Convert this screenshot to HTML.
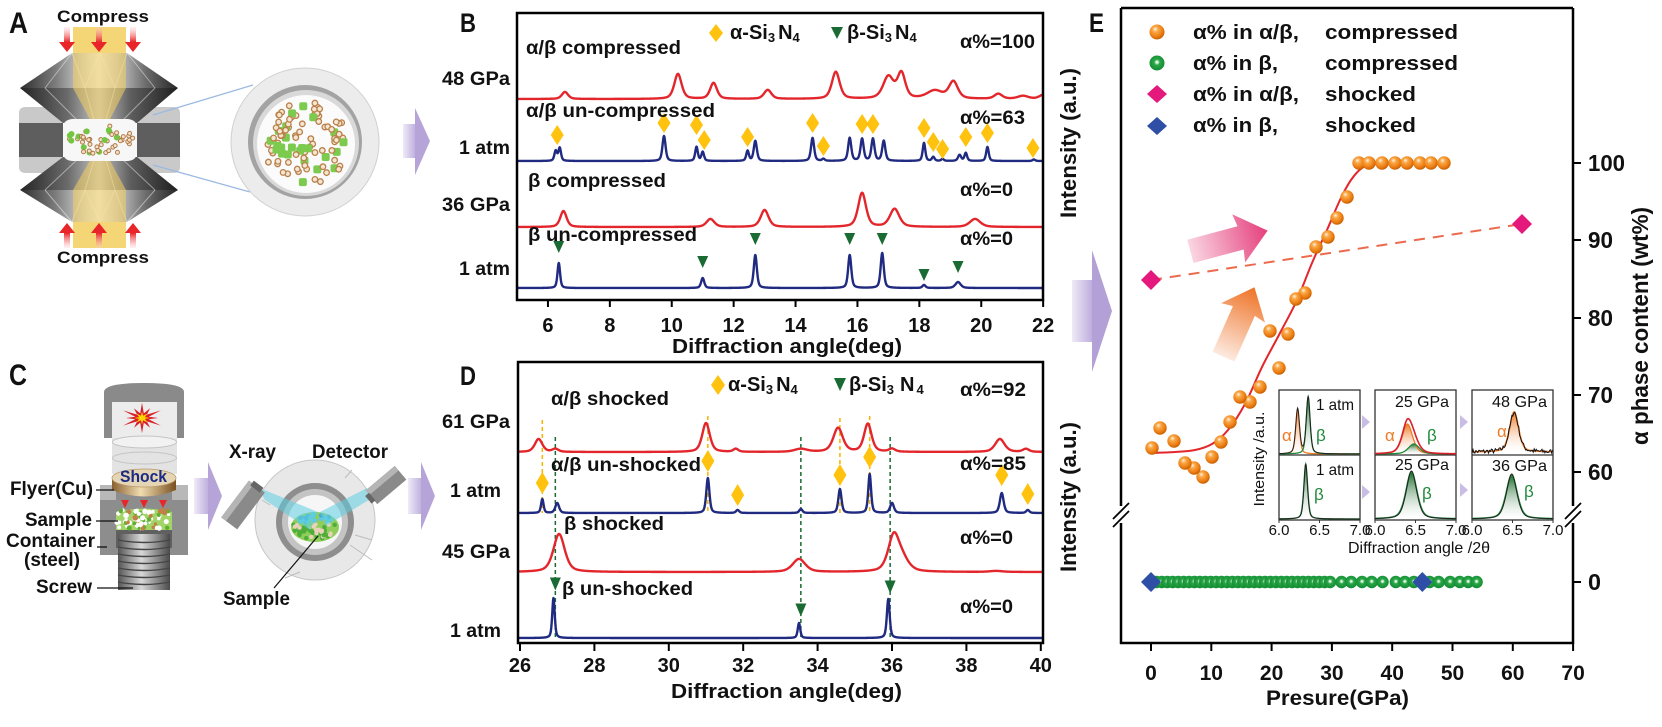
<!DOCTYPE html>
<html><head><meta charset="utf-8">
<style>
html,body{margin:0;padding:0;background:#fff;}
svg{display:block;}
text{font-family:"Liberation Sans",Arial,sans-serif;fill:#111;}
.b{font-weight:bold;}
</style></head><body>
<svg id="s" width="1662" height="727" viewBox="0 0 1662 727" xmlns="http://www.w3.org/2000/svg">
<defs>
<linearGradient id="pg" x1="0" y1="0" x2="1" y2="0"><stop offset="0" stop-color="#f4f1f9"/><stop offset="1" stop-color="#a792cf"/></linearGradient>
<radialGradient id="ob" cx="0.42" cy="0.38" r="0.62" fx="0.38" fy="0.3"><stop offset="0" stop-color="#fff4e2"/><stop offset="0.3" stop-color="#f9a848"/><stop offset="0.75" stop-color="#ec7d12"/><stop offset="1" stop-color="#c86000"/></radialGradient>
<radialGradient id="gb" cx="0.5" cy="0.45" r="0.6"><stop offset="0" stop-color="#ffffff"/><stop offset="0.12" stop-color="#d8f0d8"/><stop offset="0.32" stop-color="#2aa848"/><stop offset="1" stop-color="#0f8530"/></radialGradient>
<linearGradient id="pa" x1="0" y1="0" x2="1" y2="0"><stop offset="0" stop-color="#fad6e2"/><stop offset="1" stop-color="#e5407d"/></linearGradient>
<linearGradient id="oa" x1="0" y1="0" x2="1" y2="0"><stop offset="0" stop-color="#fdeae0"/><stop offset="1" stop-color="#ee7326"/></linearGradient>
<linearGradient id="dg1" x1="0" y1="0" x2="1" y2="0"><stop offset="0" stop-color="#2e2e2e"/><stop offset="0.22" stop-color="#7a7a7a"/><stop offset="0.4" stop-color="#cfcfcf"/><stop offset="0.5" stop-color="#eeeeee"/><stop offset="0.62" stop-color="#c4c4c4"/><stop offset="0.8" stop-color="#6a6a6a"/><stop offset="1" stop-color="#262626"/></linearGradient>
<linearGradient id="dg2" x1="0" y1="0" x2="1" y2="0"><stop offset="0" stop-color="#242424"/><stop offset="0.3" stop-color="#6a6a6a"/><stop offset="0.5" stop-color="#c4c4c4"/><stop offset="0.7" stop-color="#5e5e5e"/><stop offset="1" stop-color="#1e1e1e"/></linearGradient>
<linearGradient id="ra" x1="0" y1="0" x2="0" y2="1"><stop offset="0" stop-color="#ffd0d0" stop-opacity="0.3"/><stop offset="1" stop-color="#e8262a"/></linearGradient>
<linearGradient id="ra2" x1="0" y1="1" x2="0" y2="0"><stop offset="0" stop-color="#ffd0d0" stop-opacity="0.3"/><stop offset="1" stop-color="#e8262a"/></linearGradient>
<linearGradient id="cu" x1="0" y1="0" x2="1" y2="0"><stop offset="0" stop-color="#8a6030"/><stop offset="0.45" stop-color="#f0dcb0"/><stop offset="1" stop-color="#7a5020"/></linearGradient>
<linearGradient id="scr" x1="0" y1="0" x2="1" y2="0"><stop offset="0" stop-color="#555"/><stop offset="0.45" stop-color="#d8d8d8"/><stop offset="1" stop-color="#4a4a4a"/></linearGradient>
<linearGradient id="fo" x1="0" y1="0" x2="0" y2="1"><stop offset="0" stop-color="#ee7a25"/><stop offset="1" stop-color="#fff" stop-opacity="0.2"/></linearGradient>
<linearGradient id="fg" x1="0" y1="0" x2="0" y2="1"><stop offset="0" stop-color="#1d6a2c"/><stop offset="1" stop-color="#fff" stop-opacity="0.2"/></linearGradient>
<linearGradient id="la" x1="0" y1="0" x2="1" y2="0"><stop offset="0" stop-color="#efeaf6"/><stop offset="1" stop-color="#b9a8dc"/></linearGradient>
</defs>

<!-- ================= PANEL A ================= -->
<g id="panelA">
  <rect x="73" y="27" width="53" height="28" fill="#f3cf5e" opacity="0.85"/>
  <rect x="73" y="221" width="53" height="27" fill="#f3cf5e" opacity="0.85"/>
  <path d="M19,123 L19,113 Q19,107 26,107 L58,107 L63,123 Z" fill="#c9c9c9"/>
  <path d="M180,123 L180,113 Q180,107 173,107 L142,107 L137,123 Z" fill="#c9c9c9"/>
  <path d="M19,157 L19,167 Q19,173 26,173 L58,173 L63,157 Z" fill="#c9c9c9"/>
  <path d="M180,157 L180,167 Q180,173 173,173 L142,173 L137,157 Z" fill="#c9c9c9"/>
  <polygon points="72,53 127,53 178,88 20,88" fill="url(#dg1)"/>
  <polygon points="20,88 178,88 137,123 63,123" fill="url(#dg2)"/>
  <g stroke="#ffffff" stroke-opacity="0.45" stroke-width="1" fill="none">
    <path d="M72,53 L45,88 M72,53 L85,88 M127,53 L115,88 M127,53 L155,88 M100,53 L85,88 M100,53 L115,88"/>
    <path d="M45,88 L80,123 M85,88 L95,123 M115,88 L105,123 M155,88 L120,123"/>
  </g>
  <polygon points="73,53 126,53 126,88 73,88" fill="#f3cf5e" opacity="0.55"/>
  <polygon points="73,88 126,88 108,123 92,123" fill="#f3cf5e" opacity="0.55"/>
  <polygon points="63,157 137,157 178,190 20,190" fill="url(#dg2)"/>
  <polygon points="20,190 178,190 127,222 72,222" fill="url(#dg1)"/>
  <g stroke="#ffffff" stroke-opacity="0.45" stroke-width="1" fill="none">
    <path d="M72,222 L45,190 M72,222 L85,190 M127,222 L115,190 M127,222 L155,190 M100,222 L85,190 M100,222 L115,190"/>
    <path d="M45,190 L80,157 M85,190 L95,157 M115,190 L105,157 M155,190 L120,157"/>
  </g>
  <polygon points="73,190 126,190 126,222 73,222" fill="#f3cf5e" opacity="0.55"/>
  <polygon points="92,157 108,157 126,190 73,190" fill="#f3cf5e" opacity="0.55"/>
  <rect x="19" y="123" width="44" height="34" fill="#5e5e5e"/>
  <rect x="137" y="123" width="43" height="34" fill="#5e5e5e"/>
  <path d="M63,128 Q63,120 72,119 L128,119 Q137,120 137,128 L137,152 Q137,160 128,161 L72,161 Q63,160 63,152 Z" fill="#f7f7f7"/>
  <g id="dotsA"></g>
  <g>
    <rect x="64" y="27" width="6" height="15" fill="url(#ra)"/><polygon points="59,42 75,42 67,52" fill="#e8262a"/>
    <rect x="96" y="27" width="6" height="15" fill="url(#ra)"/><polygon points="91,42 107,42 99,52" fill="#e8262a"/>
    <rect x="130" y="27" width="6" height="15" fill="url(#ra)"/><polygon points="125,42 141,42 133,52" fill="#e8262a"/>
    <rect x="64" y="233" width="6" height="15" fill="url(#ra2)"/><polygon points="59,233 75,233 67,223" fill="#e8262a"/>
    <rect x="96" y="233" width="6" height="15" fill="url(#ra2)"/><polygon points="91,233 107,233 99,223" fill="#e8262a"/>
    <rect x="130" y="233" width="6" height="15" fill="url(#ra2)"/><polygon points="125,233 141,233 133,223" fill="#e8262a"/>
  </g>
  <line x1="153" y1="115" x2="253" y2="85" stroke="#9cb9e2" stroke-width="1.2"/>
  <line x1="153" y1="165" x2="250" y2="192" stroke="#9cb9e2" stroke-width="1.2"/>
  <circle cx="305" cy="142" r="74" fill="#ececec" stroke="#d0d0d0" stroke-width="1"/>
  <circle cx="305" cy="142" r="57" fill="#a3a3a3"/>
  <circle cx="306" cy="143" r="53" fill="#d9d9d9"/>
  <circle cx="306" cy="144" r="49" fill="#fbfbfb"/>
  <g id="dotsA2"></g>
  <text class="b" x="9" y="33" font-size="30" textLength="19" lengthAdjust="spacingAndGlyphs">A</text>
  <text class="b" x="57" y="22" font-size="17" textLength="92" lengthAdjust="spacingAndGlyphs">Compress</text>
  <text class="b" x="57" y="263" font-size="17" textLength="92" lengthAdjust="spacingAndGlyphs">Compress</text>
  <rect x="403" y="124" width="14" height="34" fill="url(#la)"/>
  <polygon points="415,108 430,141 415,175" fill="#b6a4d8"/>
</g>

<!-- ================= PANEL C ================= -->
<g id="panelC">
  <text class="b" x="9" y="385" font-size="30" textLength="18" lengthAdjust="spacingAndGlyphs">C</text>
  <path d="M104,438 L104,392 Q104,383 144,383 Q184,383 184,392 L184,438 Z" fill="#8a8a8a"/>
  <rect x="112" y="402" width="65" height="36" fill="#ececec"/>
  <g id="star"></g>
  <rect x="112" y="438" width="65" height="36" fill="#dedede" opacity="0.85"/>
  <ellipse cx="144.5" cy="442" rx="32" ry="6" fill="#f2f2f2" stroke="#c4c4c4"/>
  <ellipse cx="144.5" cy="458" rx="32" ry="6" fill="none" stroke="#c4c4c4"/>
  <rect x="100" y="485" width="88" height="70" fill="#8d8d8d"/>
  <rect x="100" y="485" width="16" height="15" fill="#b8b8b8"/>
  <rect x="172" y="485" width="16" height="15" fill="#b8b8b8"/>
  <rect x="116" y="530" width="56" height="18" fill="#606060"/>
  <rect x="118" y="534" width="52" height="56" fill="url(#scr)"/>
  <g stroke="#454545" stroke-width="1.4" fill="none">
    <path d="M118,540 Q144,545 170,540 M118,547 Q144,552 170,547 M118,554 Q144,559 170,554 M118,561 Q144,566 170,561 M118,568 Q144,573 170,568 M118,575 Q144,580 170,575 M118,582 Q144,587 170,582"/>
  </g>
  <path d="M116,512 Q144,505 172,512 L172,530 L116,530 Z" fill="#a3d468"/>
  <g id="dotsC"></g>
  <path d="M112,478 L112,490 Q144,503 176,490 L176,478 Z" fill="url(#cu)"/>
  <ellipse cx="144" cy="478" rx="32" ry="9" fill="#e4d6b4" stroke="#b89868" stroke-width="0.8"/>
  <text class="b" x="120" y="482" font-size="17" style="fill:#1b2a86" textLength="47" lengthAdjust="spacingAndGlyphs">Shock</text>
  <g fill="#e8262a">
    <polygon points="121,500 129,500 125,508"/><polygon points="140,500 148,500 144,508"/><polygon points="159,500 167,500 163,508"/>
  </g>
  <g stroke="#111" stroke-width="1.3">
    <line x1="96" y1="490" x2="114" y2="490"/><line x1="96" y1="521" x2="118" y2="521"/>
    <line x1="97" y1="547" x2="107" y2="547"/><line x1="97" y1="588" x2="133" y2="588"/>
  </g>
  <text class="b" x="10" y="495" font-size="19" textLength="83" lengthAdjust="spacingAndGlyphs">Flyer(Cu)</text>
  <text class="b" x="25" y="526" font-size="19" textLength="67" lengthAdjust="spacingAndGlyphs">Sample</text>
  <text class="b" x="6" y="547" font-size="19" textLength="89" lengthAdjust="spacingAndGlyphs">Container</text>
  <text class="b" x="24" y="566" font-size="19" textLength="56" lengthAdjust="spacingAndGlyphs">(steel)</text>
  <text class="b" x="36" y="593" font-size="19" textLength="56" lengthAdjust="spacingAndGlyphs">Screw</text>
  <rect x="194" y="478" width="16" height="36" fill="url(#la)"/>
  <polygon points="208,462 222,496 208,530" fill="#b6a4d8"/>
  <rect x="408" y="478" width="15" height="36" fill="url(#la)"/>
  <polygon points="421,462 435,496 421,530" fill="#b6a4d8"/>
  <circle cx="315" cy="520" r="60" fill="#e8e8e8" stroke="#c6c6c6"/>
  <g stroke="#bdbdbd" stroke-width="1" fill="none">
    <path d="M350,545 L372,560 M355,535 L372,540 M300,572 L285,578"/>
    <path d="M345,478 L352,470 M270,505 L262,500"/>
  </g>
  <circle cx="315" cy="522" r="39" fill="#8e8e8e"/>
  <circle cx="315" cy="522" r="33" fill="#c4c4c4"/>
  <circle cx="315" cy="522" r="27" fill="#f6f6f6"/>
  <ellipse cx="315" cy="527" rx="24" ry="15" fill="#8fce5a"/>
  <g id="dotsX"></g>
  <polygon points="257,487 265,500 310,530 318,512" fill="#5ccfe2" opacity="0.55"/>
  <polygon points="320,512 326,526 372,498 367,488" fill="#5ccfe2" opacity="0.55"/>
  <g transform="translate(243,505) rotate(-53)"><rect x="-23" y="-10" width="46" height="20" fill="#8a8a8a"/><rect x="-23" y="-10" width="46" height="6" fill="#b5b5b5"/><rect x="20" y="-6" width="6" height="12" fill="#666"/></g>
  <g transform="translate(386,485) rotate(-40)"><rect x="-19" y="-9" width="38" height="18" fill="#8a8a8a"/><rect x="-19" y="-9" width="38" height="6" fill="#b5b5b5"/><rect x="-23" y="-5" width="5" height="10" fill="#666"/></g>
  <line x1="274" y1="588" x2="318" y2="536" stroke="#111" stroke-width="1.2"/>
  <text class="b" x="229" y="458" font-size="19" textLength="47" lengthAdjust="spacingAndGlyphs">X-ray</text>
  <text class="b" x="312" y="458" font-size="19" textLength="76" lengthAdjust="spacingAndGlyphs">Detector</text>
  <text class="b" x="223" y="605" font-size="19" textLength="67" lengthAdjust="spacingAndGlyphs">Sample</text>
</g>

<!-- ================= PANEL B ================= -->
<g id="panelB">
  <text class="b" x="460" y="32" font-size="27" textLength="16" lengthAdjust="spacingAndGlyphs">B</text>
  <g id="curvesB"></g>
  <rect x="517" y="13" width="526" height="287" fill="none" stroke="#000" stroke-width="2.5"/>
  <g id="ticksB" stroke="#000" stroke-width="2"></g>
  <g class="b" font-size="20" text-anchor="middle" id="tlB"></g>
  <text class="b" x="672" y="353" font-size="20" textLength="230" lengthAdjust="spacingAndGlyphs">Diffraction angle(deg)</text>
  <text class="b" x="442" y="85" font-size="19" textLength="68" lengthAdjust="spacingAndGlyphs">48 GPa</text>
  <text class="b" x="459" y="154" font-size="19" textLength="51" lengthAdjust="spacingAndGlyphs">1 atm</text>
  <text class="b" x="442" y="211" font-size="19" textLength="68" lengthAdjust="spacingAndGlyphs">36 GPa</text>
  <text class="b" x="459" y="275" font-size="19" textLength="51" lengthAdjust="spacingAndGlyphs">1 atm</text>
  <text class="b" x="526" y="54" font-size="19" textLength="155" lengthAdjust="spacingAndGlyphs">α/β compressed</text>
  <text class="b" x="526" y="117" font-size="19" textLength="189" lengthAdjust="spacingAndGlyphs">α/β un-compressed</text>
  <text class="b" x="528" y="187" font-size="19" textLength="138" lengthAdjust="spacingAndGlyphs">β compressed</text>
  <text class="b" x="528" y="241" font-size="19" textLength="169" lengthAdjust="spacingAndGlyphs">β un-compressed</text>
  <text class="b" x="960" y="48" font-size="19" textLength="75" lengthAdjust="spacingAndGlyphs">α%=100</text>
  <text class="b" x="960" y="124" font-size="19" textLength="65" lengthAdjust="spacingAndGlyphs">α%=63</text>
  <text class="b" x="960" y="196" font-size="19" textLength="53" lengthAdjust="spacingAndGlyphs">α%=0</text>
  <text class="b" x="960" y="245" font-size="19" textLength="53" lengthAdjust="spacingAndGlyphs">α%=0</text>
  <polygon points="716,24 723,33 716,42 709,33" fill="#ffc20e"/>
  <text class="b" x="730" y="39" font-size="20">α-Si<tspan font-size="13" dy="3">3</tspan><tspan dx="3" dy="-3">N</tspan><tspan font-size="13" dy="3">4</tspan></text>
  <polygon points="831,27 843,27 837,39" fill="#1a6b33"/>
  <text class="b" x="847" y="39" font-size="20">β-Si<tspan font-size="13" dy="3">3</tspan><tspan dx="3" dy="-3">N</tspan><tspan font-size="13" dy="3">4</tspan></text>
</g>

<!-- ================= PANEL D ================= -->
<g id="panelD">
  <text class="b" x="460" y="385" font-size="27" textLength="16" lengthAdjust="spacingAndGlyphs">D</text>
  <g id="curvesD"></g>
  <rect x="518" y="362" width="525" height="281" fill="none" stroke="#000" stroke-width="2.5"/>
  <g id="ticksD" stroke="#000" stroke-width="2"></g>
  <g class="b" font-size="20" text-anchor="middle" id="tlD"></g>
  <text class="b" x="671" y="698" font-size="20" textLength="231" lengthAdjust="spacingAndGlyphs">Diffraction angle(deg)</text>
  <text class="b" x="442" y="428" font-size="19" textLength="68" lengthAdjust="spacingAndGlyphs">61 GPa</text>
  <text class="b" x="450" y="497" font-size="19" textLength="51" lengthAdjust="spacingAndGlyphs">1 atm</text>
  <text class="b" x="442" y="558" font-size="19" textLength="68" lengthAdjust="spacingAndGlyphs">45 GPa</text>
  <text class="b" x="450" y="637" font-size="19" textLength="51" lengthAdjust="spacingAndGlyphs">1 atm</text>
  <text class="b" x="551" y="405" font-size="19" textLength="118" lengthAdjust="spacingAndGlyphs">α/β shocked</text>
  <text class="b" x="551" y="471" font-size="19" textLength="150" lengthAdjust="spacingAndGlyphs">α/β un-shocked</text>
  <text class="b" x="564" y="530" font-size="19" textLength="100" lengthAdjust="spacingAndGlyphs">β shocked</text>
  <text class="b" x="562" y="595" font-size="19" textLength="131" lengthAdjust="spacingAndGlyphs">β un-shocked</text>
  <text class="b" x="960" y="396" font-size="19" textLength="66" lengthAdjust="spacingAndGlyphs">α%=92</text>
  <text class="b" x="960" y="470" font-size="19" textLength="66" lengthAdjust="spacingAndGlyphs">α%=85</text>
  <text class="b" x="960" y="544" font-size="19" textLength="53" lengthAdjust="spacingAndGlyphs">α%=0</text>
  <text class="b" x="960" y="613" font-size="19" textLength="53" lengthAdjust="spacingAndGlyphs">α%=0</text>
  <polygon points="718,375 725,385 718,395 711,385" fill="#ffc20e"/>
  <text class="b" x="728" y="391" font-size="20">α-Si<tspan font-size="13" dy="3">3</tspan><tspan dx="3" dy="-3">N</tspan><tspan font-size="13" dy="3">4</tspan></text>
  <polygon points="834,378 846,378 840,391" fill="#1a6b33"/>
  <text class="b" x="849" y="391" font-size="20">β-Si<tspan font-size="13" dy="3">3</tspan><tspan dx="6" dy="-3">N</tspan><tspan dx="2" font-size="13" dy="3">4</tspan></text>
</g>

<!-- ================= PANEL E ================= -->
<g id="panelE">
  <text class="b" x="1089" y="32" font-size="27" textLength="15" lengthAdjust="spacingAndGlyphs">E</text>
  <text class="b" font-size="22" text-anchor="middle" transform="translate(1076,143) rotate(-90)" textLength="150" lengthAdjust="spacingAndGlyphs">Intensity (a.u.)</text>
  <text class="b" font-size="22" text-anchor="middle" transform="translate(1076,497) rotate(-90)" textLength="150" lengthAdjust="spacingAndGlyphs">Intensity (a.u.)</text>
  <rect x="1072" y="280" width="22" height="62" fill="url(#la)"/>
  <polygon points="1092,250 1112,311 1092,372" fill="#b2a0d6"/>
  <g stroke="#000" stroke-width="2.5" fill="none">
    <line x1="1121" y1="8" x2="1573" y2="8"/>
    <line x1="1121" y1="8" x2="1121" y2="506"/><line x1="1121" y1="523" x2="1121" y2="644"/>
    <line x1="1120" y1="643" x2="1574" y2="643"/>
    <line x1="1573" y1="8" x2="1573" y2="506"/><line x1="1573" y1="523" x2="1573" y2="644"/>
  </g>
  <g stroke="#000" stroke-width="1.8">
    <line x1="1113" y1="519" x2="1129" y2="503"/><line x1="1113" y1="527" x2="1129" y2="511"/>
    <line x1="1565" y1="519" x2="1581" y2="503"/><line x1="1565" y1="527" x2="1581" y2="511"/>
  </g>
  <g id="ticksE" stroke="#000" stroke-width="2"></g>
  <g class="b" font-size="21" text-anchor="middle" id="tlE"></g>
  <g class="b" font-size="23">
    <text x="1588" y="171" textLength="37" lengthAdjust="spacingAndGlyphs">100</text>
    <text x="1588" y="248" textLength="25" lengthAdjust="spacingAndGlyphs">90</text>
    <text x="1588" y="326" textLength="25" lengthAdjust="spacingAndGlyphs">80</text>
    <text x="1588" y="403" textLength="25" lengthAdjust="spacingAndGlyphs">70</text>
    <text x="1588" y="480" textLength="25" lengthAdjust="spacingAndGlyphs">60</text>
    <text x="1588" y="590" textLength="13" lengthAdjust="spacingAndGlyphs">0</text>
  </g>
  <text class="b" font-size="23" text-anchor="middle" transform="translate(1648,326) rotate(-90)" textLength="238" lengthAdjust="spacingAndGlyphs">α phase content (wt%)</text>
  <text class="b" x="1266" y="705" font-size="21" textLength="143" lengthAdjust="spacingAndGlyphs">Presure(GPa)</text>
  <g transform="translate(1229,241) rotate(-15)">
    <polygon points="-40,-12 12,-12 10,-25 40,0 10,25 12,12 -40,12" fill="url(#pa)"/>
  </g>
  <g transform="translate(1239,322) rotate(-66)">
    <polygon points="-38,-12 12,-12 10,-24 38,0 10,24 12,12 -38,12" fill="url(#oa)"/>
  </g>
  <g id="dataE"></g>
  <circle cx="1157" cy="32" r="7.5" fill="url(#ob)"/>
  <circle cx="1157" cy="63" r="7.5" fill="url(#gb)"/>
  <polygon points="1157,85 1167,94 1157,103 1147,94" fill="#e5187c"/>
  <polygon points="1157,117 1167,126 1157,135 1147,126" fill="#2f4fa6"/>
  <g class="b" font-size="20">
    <text x="1193" y="39" textLength="106" lengthAdjust="spacingAndGlyphs">α% in α/β,</text>
    <text x="1325" y="39" textLength="133" lengthAdjust="spacingAndGlyphs">compressed</text>
    <text x="1193" y="70" textLength="85" lengthAdjust="spacingAndGlyphs">α% in β,</text>
    <text x="1325" y="70" textLength="133" lengthAdjust="spacingAndGlyphs">compressed</text>
    <text x="1193" y="101" textLength="106" lengthAdjust="spacingAndGlyphs">α% in α/β,</text>
    <text x="1325" y="101" textLength="91" lengthAdjust="spacingAndGlyphs">shocked</text>
    <text x="1193" y="132" textLength="85" lengthAdjust="spacingAndGlyphs">α% in β,</text>
    <text x="1325" y="132" textLength="91" lengthAdjust="spacingAndGlyphs">shocked</text>
  </g>
  <g id="inset"></g>
  <g font-size="16">
    <text x="1316" y="410" textLength="38" lengthAdjust="spacingAndGlyphs">1 atm</text>
    <text x="1395" y="407" textLength="54" lengthAdjust="spacingAndGlyphs">25 GPa</text>
    <text x="1492" y="407" textLength="55" lengthAdjust="spacingAndGlyphs">48 GPa</text>
    <text x="1316" y="475" textLength="38" lengthAdjust="spacingAndGlyphs">1 atm</text>
    <text x="1395" y="470" textLength="54" lengthAdjust="spacingAndGlyphs">25 GPa</text>
    <text x="1492" y="471" textLength="55" lengthAdjust="spacingAndGlyphs">36 GPa</text>
  </g>
  <g font-size="17">
    <text x="1282" y="441" style="fill:#ee7a25">α</text>
    <text x="1316" y="441" style="fill:#1f8a3a">β</text>
    <text x="1385" y="441" style="fill:#ee7a25">α</text>
    <text x="1427" y="441" style="fill:#1f8a3a">β</text>
    <text x="1497" y="437" style="fill:#ee7a25">α</text>
    <text x="1314" y="500" style="fill:#1f8a3a">β</text>
    <text x="1422" y="499" style="fill:#1f8a3a">β</text>
    <text x="1524" y="497" style="fill:#1f8a3a">β</text>
  </g>
  <g font-size="15" text-anchor="middle" id="inTick"></g>
  <text x="1348" y="553" font-size="16" textLength="142" lengthAdjust="spacingAndGlyphs">Diffraction angle /2θ</text>
  <text font-size="15" text-anchor="middle" transform="translate(1264,459) rotate(-90)" textLength="95" lengthAdjust="spacingAndGlyphs">Intensity /a.u.</text>
</g>
</svg>
<script>
(function(){
const NS='http://www.w3.org/2000/svg';
function el(t,a,p){const e=document.createElementNS(NS,t);for(const k in a)e.setAttribute(k,a[k]);p.appendChild(e);return e;}
function $(id){return document.getElementById(id);}
function rng(seed){let s=seed;return function(){s=(s*16807)%2147483647;return s/2147483647;};}
function pv(x,c,h,w,eta){const d=(x-c)/w;return h*(eta/(1+d*d)+(1-eta)*Math.exp(-0.6931*d*d));}
function curve(a0,a1,step,base,pk,xm,eta){let s='';for(let a=a0;a<=a1+1e-9;a+=step){let y=0;for(const p of pk)y+=pv(a,p[0],p[1],p[2],p[3]!==undefined?p[3]:eta);s+=(s?'L':'M')+xm(a).toFixed(2)+' '+(base-y).toFixed(2);}return s;}
function dia(p,x,y,hw,hh,f){el('polygon',{points:`${x},${y-hh} ${x+hw},${y} ${x},${y+hh} ${x-hw},${y}`,fill:f},p);}
function tri(p,x,y,hw,h,f){el('polygon',{points:`${x-hw},${y-h/2} ${x+hw},${y-h/2} ${x},${y+h/2}`,fill:f},p);}
const RED='#e3262c',BLUE='#1f2a80',YEL='#ffc20e',GRN='#1a6b33';

const xB=a=>517+(a-5)*30.95;
const gB=$('curvesB');
const r1=[[6.55,7,.12],[10.2,25,.14],[11.35,16,.13],[13.1,9,.14],[15.3,27,.15],[17.0,22,.2],[17.42,25,.15],[18.5,8,.3],[19.1,17,.17],[20.55,5,.15],[21.35,3,.2],[22.0,4,.15]];
const b1=[[6.25,10,.05],[6.38,13,.05],[9.75,25,.06],[10.8,14,.05],[11.0,9,.05],[12.45,10,.05],[12.7,20,.06],[14.55,23,.06],[14.9,2,.05],[15.75,23,.06],[16.15,22,.06],[16.5,22,.06],[16.85,20,.06],[18.15,18,.05],[18.45,4,.05],[18.75,2,.05],[19.3,6,.06],[19.5,8,.05],[20.2,14,.05],[21.7,1.5,.05]];
const r2=[[6.5,16,.12],[11.25,8,.15],[13.0,17,.15],[16.15,34,.15],[17.2,18,.18],[19.8,8,.2]];
const b2=[[6.35,25,.05],[11.0,10,.06],[12.7,33,.06],[15.75,33,.06],[16.8,35,.06],[18.15,3,.06],[19.25,6,.1]];
const sty={fill:'none','stroke-width':2.4,'stroke-linejoin':'round'};
function addPath(g,d,c,w){el('path',Object.assign({},sty,{d:d,stroke:c,'stroke-width':w||2.4}),g);}
addPath(gB,curve(5.02,21.98,0.01,99,r1,xB,.5),RED);
addPath(gB,curve(5.02,21.98,0.01,161,b1,xB,.5),BLUE);
addPath(gB,curve(5.02,21.98,0.01,227,r2,xB,.5),RED);
addPath(gB,curve(5.02,21.98,0.01,288,b2,xB,.5),BLUE);
[[6.3,135],[9.75,123],[10.8,125],[11.05,140],[12.45,137],[14.55,123],[14.9,146],[16.15,124],[16.5,124],[18.15,128],[18.45,142],[18.75,149],[19.5,137],[20.2,133],[21.67,148]].forEach(d=>dia(gB,xB(d[0]),d[1],6.5,10,YEL));
[[6.35,247],[11.0,262],[12.7,239],[15.75,239],[16.8,239],[18.15,275],[19.25,267]].forEach(d=>tri(gB,xB(d[0]),d[1],5.5,12,GRN));
const tB=$('ticksB'),lB=$('tlB');
for(let a=6;a<=22;a+=2){el('line',{x1:xB(a),y1:300,x2:xB(a),y2:307},tB);const t=el('text',{x:xB(a),y:332},lB);t.textContent=a;}

const xD=a=>520+(a-26)*37.2;
const gD=$('curvesD');
const r3=[[26.5,13,.12],[26.95,3,.1],[31.0,29,.12],[31.8,3,.08],[33.55,3,.2],[34.55,24,.15],[35.35,28,.12],[36.0,3,.1],[38.9,13,.15],[39.6,3,.1]];
const b3=[[26.6,14,.04],[27.0,10,.06],[31.05,35,.05],[31.85,3,.05],[33.55,4,.05],[34.6,24,.05],[35.4,39,.045],[36.0,10,.06],[38.95,20,.06],[39.65,3,.05]];
const r4=[[27.05,38,.18],[33.5,13,.2],[36.05,36,.18],[36.3,10,.2],[38.8,1,.2]];
const b4=[[26.9,40,.04],[33.5,15,.04],[35.9,39,.045]];
[[26.6,420],[31.05,416],[34.6,418],[35.4,416]].forEach(d=>el('line',{x1:xD(d[0]),y1:d[1],x2:xD(d[0]),y2:513,stroke:'#f5b400','stroke-width':1.5,'stroke-dasharray':'4 3'},gD));
[26.95,33.55,35.95].forEach(a=>el('line',{x1:xD(a),y1:437,x2:xD(a),y2:638,stroke:GRN,'stroke-width':1.5,'stroke-dasharray':'4 3'},gD));
addPath(gD,curve(25.97,40.05,0.01,452,r3,xD,.5),RED);
addPath(gD,curve(25.97,40.05,0.01,513,b3,xD,.5),BLUE);
addPath(gD,curve(25.97,40.05,0.01,572,r4,xD,.5),RED);
addPath(gD,curve(25.97,40.05,0.01,638,b4,xD,.5),BLUE);
[[26.6,483],[31.05,461],[31.85,495],[34.6,475],[35.4,457],[38.95,475],[39.65,494]].forEach(d=>dia(gD,xD(d[0]),d[1],6.5,11,YEL));
[[26.95,584],[33.55,610],[35.95,587]].forEach(d=>tri(gD,xD(d[0]),d[1],5.5,13,GRN));
const tD=$('ticksD'),lD=$('tlD');
for(let a=26;a<=40;a+=2){el('line',{x1:xD(a),y1:643,x2:xD(a),y2:651},tD);const t=el('text',{x:xD(a),y:672},lD);t.textContent=a;}

const xE=p=>1151+p*6.03;
const tE=$('ticksE'),lE=$('tlE');
for(let p=0;p<=70;p+=10){el('line',{x1:xE(p),y1:643,x2:xE(p),y2:651},tE);const t=el('text',{x:xE(p),y:680},lE);t.textContent=p;}
[163,240,318,395,472,582].forEach(y=>el('line',{x1:1573,y1:y,x2:1581,y2:y},tE));
const gE=$('dataE');
const pts=[[1151,453],[1175,452],[1195,450],[1212,444],[1228,430],[1245,404],[1262,367],[1280,333],[1297,300],[1312,263],[1327,230],[1340,200],[1351,180],[1362,168],[1375,164],[1395,163],[1444,163]];
let d='M'+pts[0][0]+' '+pts[0][1];
for(let i=0;i<pts.length-1;i++){const p0=pts[i-1]||pts[i],p1=pts[i],p2=pts[i+1],p3=pts[i+2]||p2;
 d+=` C${(p1[0]+(p2[0]-p0[0])/6).toFixed(1)} ${(p1[1]+(p2[1]-p0[1])/6).toFixed(1)} ${(p2[0]-(p3[0]-p1[0])/6).toFixed(1)} ${(p2[1]-(p3[1]-p1[1])/6).toFixed(1)} ${p2[0]} ${p2[1]}`;}
el('path',{d:d,fill:'none',stroke:RED,'stroke-width':2},gE);
el('line',{x1:1151,y1:280,x2:1522,y2:224,stroke:'#ec6a4c','stroke-width':2,'stroke-dasharray':'11 8'},gE);
const gp=[];for(let p=0;p<=30;p+=0.9)gp.push(p);[31.6,33.2,35,36.6,38.4,40.6,42.1,43.6,46.2,47.7,49.6,51.2,52.6,54].forEach(p=>gp.push(p));
gp.forEach(p=>el('circle',{cx:xE(p),cy:582,r:6.2,fill:'url(#gb)'},gE));
dia(gE,xE(0),582,10,10,'#2f4fa6');dia(gE,xE(45),582,10,10,'#2f4fa6');
[[1359,163],[1369,163],[1382,163],[1395,163],[1407,163],[1420,163],[1431,163],[1444,163],[1347,197],[1337,218],[1328,237],[1316,247],[1305,293],[1296,299],[1288,334],[1270,331],[1279,368],[1260,387],[1250,402],[1240,397],[1230,422],[1221,442],[1212,457],[1203,477],[1194,468],[1185,463],[1174,441],[1160,428],[1152,448]].forEach(q=>el('circle',{cx:q[0],cy:q[1],r:6.7,fill:'url(#ob)'},gE));
dia(gE,1151,280,10,10,'#e5187c');dia(gE,1522,224,10,10,'#e5187c');

const gI=$('inset');
const L=[1279,1375,1472],W=81;
function xi(l){return a=>l+(a-6)*W;}
function fillPeak(l,base,pk,grad){const xm=xi(l);let s=curve(6,7,0.005,base,pk,xm,.4);s+=` L${l+W} ${base} L${l} ${base} Z`;el('path',{d:s,fill:grad,stroke:'none'},gI);}
function linePeak(l,base,pk,c,w){el('path',{d:curve(6,7,0.005,base,pk,xi(l),.4),fill:'none',stroke:c,'stroke-width':w||1.3},gI);}
L.forEach(l=>{el('rect',{x:l,y:390,width:W,height:130,fill:'#fff',stroke:'#333','stroke-width':1.3},gI);el('line',{x1:l,y1:455,x2:l+W,y2:455,stroke:'#333','stroke-width':1.3},gI);});
fillPeak(L[0],454,[[6.23,45,.028]],'url(#fo)');fillPeak(L[0],454,[[6.36,57,.028]],'url(#fg)');
linePeak(L[0],454,[[6.23,45,.028]],'#ee7a25');linePeak(L[0],454,[[6.36,57,.028]],'#1f8a3a');
linePeak(L[0],454,[[6.23,45,.028],[6.36,57,.028]],'#222',1);
fillPeak(L[0],519,[[6.33,55,.028]],'url(#fg)');linePeak(L[0],519,[[6.33,55,.028]],'#1f8a3a');linePeak(L[0],519,[[6.33,55,.026]],'#222',1);
fillPeak(L[1],454,[[6.4,30,.075]],'url(#fo)');fillPeak(L[1],454,[[6.48,10,.08]],'url(#fg)');
linePeak(L[1],454,[[6.4,30,.075]],'#ee7a25');linePeak(L[1],454,[[6.48,10,.08]],'#1f8a3a');
linePeak(L[1],454,[[6.4,30,.075],[6.48,10,.08]],'#d8202a',1.6);
fillPeak(L[1],519,[[6.45,47,.08]],'url(#fg)');linePeak(L[1],519,[[6.45,47,.08]],'#1f8a3a',1.6);linePeak(L[1],519,[[6.45,48,.075]],'#222',1);
fillPeak(L[2],452,[[6.52,40,.065]],'url(#fo)');linePeak(L[2],452,[[6.52,40,.065]],'#ee7a25',1.6);
(function(){const r=rng(7);let s='';const xm=xi(L[2]);for(let a=6;a<=7.0001;a+=0.012){const y=pv(a,6.52,40,.065,.4)+(r()-0.5)*5;s+=(s?'L':'M')+xm(a).toFixed(1)+' '+(452-Math.max(y,-1)).toFixed(1);}el('path',{d:s,fill:'none',stroke:'#111','stroke-width':1},gI);})();
fillPeak(L[2],519,[[6.49,44,.08]],'url(#fg)');linePeak(L[2],519,[[6.49,44,.08]],'#1f8a3a',1.6);linePeak(L[2],519,[[6.49,45,.075]],'#222',1);
[[1362,422],[1362,492],[1460,422],[1460,490]].forEach(q=>{el('polygon',{points:`${q[0]},${q[1]-7} ${q[0]+8},${q[1]} ${q[0]},${q[1]+7}`,fill:'#c9bde6'},gI);});
const it=$('inTick');
L.forEach(l=>{[['6.0',0],['6.5',.5],['7.0',1]].forEach(v=>{const t=el('text',{x:l+v[1]*W,y:535},it);t.textContent=v[0];el('line',{x1:l+v[1]*W,y1:520,x2:l+v[1]*W,y2:523,stroke:'#333'},gI);});});

(function(){
 let r=rng(11);const g=$('dotsA');
 for(let i=0;i<48;i++){const t=r()*6.283,rr=Math.sqrt(r());const x=100+Math.cos(t)*rr*33,y=140+Math.sin(t)*rr*15;
  if(r()<0.3)el('circle',{cx:x,cy:y,r:3,fill:'#74c541'},g);else el('circle',{cx:x,cy:y,r:2,fill:'#f3e2cc',stroke:'#b07a48','stroke-width':1},g);}
 r=rng(23);const g2=$('dotsA2');
 for(let i=0;i<95;i++){const t=r()*6.283,rr=Math.sqrt(r());const x=306+Math.cos(t)*rr*42,y=144+Math.sin(t)*rr*42;
  if(r()<0.28)el('rect',{x:x-4,y:y-4,width:8,height:8,rx:2,fill:'#7ccb4e'},g2);else el('circle',{cx:x,cy:y,r:2.8,fill:'#f5e6d2',stroke:'#b9804a','stroke-width':1.3},g2);}
 r=rng(5);const g3=$('dotsC');
 for(let i=0;i<70;i++){const x=117+r()*54,y=510+r()*19;el('circle',{cx:x,cy:y,r:1.6+r()*1.2,fill:r()<0.5?'#ffffff':(r()<0.5?'#c08048':'#5fb030')},g3);}
 r=rng(9);const g4=$('dotsX');
 for(let i=0;i<70;i++){const t=r()*6.283,rr=Math.sqrt(r());const x=315+Math.cos(t)*rr*22,y=527+Math.sin(t)*rr*13;
  const top=y<524;el('circle',{cx:x,cy:y,r:2.2,fill:top?(r()<0.6?'#5fc8e0':'#4aa8d8'):(r()<0.35?'#e9d2b8':'#4fae3a')},g4);}
 const gs=$('star');let s='';for(let i=0;i<24;i++){const a=i*Math.PI/12,rr=(i%2?6:(i%4?19:14));s+=(142+Math.cos(a)*rr*1.15).toFixed(1)+','+(418+Math.sin(a)*rr*0.8).toFixed(1)+' ';}
 el('polygon',{points:s,fill:'#d8202a'},gs);
 s='';for(let i=0;i<16;i++){const a=i*Math.PI/8,rr=(i%2?3:8);s+=(142+Math.cos(a)*rr).toFixed(1)+','+(418+Math.sin(a)*rr*0.8).toFixed(1)+' ';}
 el('polygon',{points:s,fill:'#ffd400'},gs);
})();
})();
</script>
</body></html>
